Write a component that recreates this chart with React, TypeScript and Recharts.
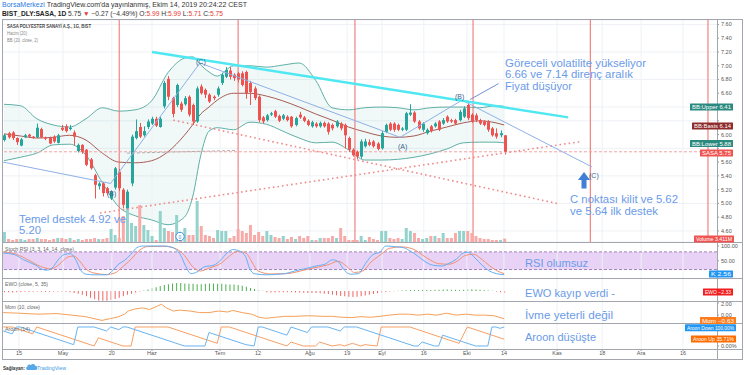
import React from "react";
import {
  Area,
  Bar,
  CartesianGrid,
  Cell,
  ComposedChart,
  Line,
  ReferenceArea,
  ReferenceLine,
  XAxis,
  YAxis
} from "recharts";

const FONT = "'Liberation Sans', Arial, sans-serif";
const NOTE = "#6b9be8";
const GREEN = "#26a69a";
const RED = "#ef5350";
const GRID = "#eef1f5";
const FRAME = "#a3a6af";

// bar index of the first candle (0 = 15 Nisan)
const FIRST_BAR = -3;
const X_DOMAIN: [number, number] = [-3.24, 170.9];
const PRICE_DOMAIN: [number, number] = [4.439, 7.665];

const opens = [
  5.92, 6.02, 6.03, 5.95, 5.84, 5.96, 6.0, 5.97, 5.96, 6.08, 5.96, 5.95, 5.97, 5.88, 6.1, 6.12, 6.08, 6.03, 5.76, 5.85,
  5.78, 5.64, 5.41, 5.25, 5.29, 5.22, 5.07, 5.23, 5.46, 5.2, 4.93, 5.29, 5.95, 6.11, 5.99, 6.11, 6.16, 6.23, 6.11, 6.41,
  6.81, 6.53, 6.43, 6.45, 6.44, 6.55, 6.43, 6.19, 6.7, 6.65, 6.58, 6.55, 6.58, 6.75, 6.84, 6.93, 6.87, 6.89, 6.89, 6.91,
  6.75, 6.67, 6.55, 6.25, 6.21, 6.29, 6.34, 6.27, 6.23, 6.26, 6.26, 6.14, 6.29, 6.25, 6.2, 6.12, 6.16, 6.12, 6.17, 6.16,
  6.14, 6.12, 6.16, 6.14, 5.95, 5.78, 5.75, 5.68, 5.83, 5.89, 5.9, 5.87, 5.8, 6.04, 6.16, 6.16, 6.14, 6.07, 6.07, 6.29,
  6.32, 6.19, 6.07, 6.02, 6.12, 6.12, 6.19, 6.16, 6.26, 6.21, 6.21, 6.21, 6.26, 6.43, 6.29, 6.28, 6.21, 6.19, 6.19, 6.09,
  6.02, 5.99, 5.99
];
const highs = [
  6.01, 6.04, 6.05, 5.96, 5.95, 6.01, 6.01, 5.98, 6.16, 6.1, 5.97, 5.97, 5.99, 6.01, 6.14, 6.15, 6.14, 6.06, 5.87, 5.86,
  5.79, 5.66, 5.43, 5.31, 5.31, 5.24, 5.19, 5.53, 5.5, 5.22, 5.2, 6.0, 6.22, 6.17, 6.12, 6.22, 6.26, 6.26, 6.26, 6.78,
  6.85, 6.55, 6.74, 6.48, 6.56, 6.57, 6.45, 6.7, 6.73, 6.67, 6.6, 6.57, 6.7, 6.9, 6.98, 6.98, 6.89, 6.91, 6.92, 6.93,
  6.78, 6.7, 6.57, 6.27, 6.3, 6.33, 6.36, 6.29, 6.3, 6.28, 6.27, 6.26, 6.33, 6.27, 6.22, 6.2, 6.18, 6.19, 6.19, 6.18,
  6.16, 6.21, 6.18, 6.16, 5.97, 5.8, 5.77, 5.93, 5.94, 5.93, 5.92, 5.89, 6.05, 6.16, 6.18, 6.18, 6.16, 6.11, 6.33, 6.44,
  6.34, 6.21, 6.18, 6.09, 6.14, 6.18, 6.21, 6.24, 6.28, 6.23, 6.23, 6.36, 6.41, 6.46, 6.31, 6.31, 6.23, 6.21, 6.21, 6.11,
  6.09, 6.06, 5.99
];
const lows = [
  5.9, 5.94, 5.92, 5.85, 5.83, 5.95, 5.96, 5.94, 5.95, 5.95, 5.92, 5.86, 5.88, 5.87, 6.05, 6.03, 6.06, 5.84, 5.74, 5.72,
  5.54, 5.49, 5.07, 5.2, 5.1, 5.12, 5.05, 5.2, 5.18, 4.93, 4.92, 5.25, 5.93, 5.95, 5.97, 6.08, 6.14, 6.11, 6.1, 6.38,
  6.5, 6.25, 6.4, 6.33, 6.42, 6.26, 6.14, 6.17, 6.58, 6.53, 6.46, 6.5, 6.55, 6.72, 6.82, 6.8, 6.78, 6.76, 6.7, 6.52,
  6.43, 6.5, 6.18, 6.16, 6.19, 6.27, 6.24, 6.18, 6.21, 6.19, 6.1, 6.12, 6.23, 6.18, 6.12, 6.1, 6.1, 6.1, 6.1, 6.0,
  6.06, 6.1, 6.06, 5.8, 5.75, 5.68, 5.64, 5.65, 5.81, 5.83, 5.81, 5.77, 5.78, 6.02, 6.05, 6.04, 6.05, 6.05, 6.05, 6.27,
  6.17, 6.07, 6.04, 6.0, 6.03, 6.1, 6.05, 6.14, 6.17, 6.17, 6.14, 6.19, 6.24, 6.21, 6.17, 6.18, 6.14, 6.12, 6.04, 5.97,
  5.94, 5.96, 5.71
];
const closes = [
  5.99, 5.96, 5.95, 5.89, 5.93, 5.99, 5.97, 5.95, 6.1, 5.96, 5.94, 5.87, 5.9, 5.99, 6.07, 6.05, 6.1, 5.97, 5.85, 5.75,
  5.56, 5.51, 5.27, 5.29, 5.15, 5.15, 5.17, 5.51, 5.22, 4.98, 5.17, 5.97, 6.05, 5.97, 6.05, 6.19, 6.23, 6.13, 6.23, 6.75,
  6.55, 6.3, 6.72, 6.36, 6.53, 6.29, 6.19, 6.67, 6.6, 6.58, 6.48, 6.53, 6.67, 6.87, 6.94, 6.84, 6.82, 6.8, 6.72, 6.6,
  6.62, 6.53, 6.21, 6.19, 6.28, 6.31, 6.26, 6.2, 6.28, 6.21, 6.12, 6.24, 6.25, 6.2, 6.14, 6.18, 6.12, 6.17, 6.12, 6.04,
  6.09, 6.19, 6.09, 5.99, 5.78, 5.7, 5.68, 5.9, 5.9, 5.85, 5.83, 5.79, 6.02, 6.14, 6.07, 6.07, 6.07, 6.09, 6.31, 6.32,
  6.19, 6.09, 6.16, 6.07, 6.05, 6.16, 6.07, 6.21, 6.19, 6.19, 6.16, 6.33, 6.38, 6.24, 6.19, 6.21, 6.16, 6.14, 6.07, 5.99,
  5.97, 6.02, 5.75
];
// volume in millions
const volumes = [
  10, 3, 2, 3, 3, 2, 3, 3, 4, 3, 3, 2, 3, 4, 4, 3, 4, 2, 3, 2, 3, 3, 4, 3, 3, 4, 13, 7, 4, 26, 37, 19, 16, 37, 17, 12,
  6, 2, 31, 14, 11, 10, 27, 8, 14, 7, 7, 41, 16, 7, 6, 4, 12, 11, 11, 4, 6, 13, 11, 9, 17, 7, 10, 6, 11, 7, 5, 4, 6, 3,
  5, 3, 6, 4, 6, 2, 2, 4, 4, 4, 6, 4, 14, 6, 2, 2, 2, 6, 2, 5, 3, 2, 11, 11, 4, 3, 4, 3, 14, 11, 9, 4, 3, 4, 6, 6, 4, 9,
  4, 4, 9, 11, 11, 11, 9, 6, 4, 3, 3, 2, 2, 2, 3.411
];

const bbIdx = [-3, 1, 5, 9, 13, 17, 21, 25, 29, 33, 37, 41, 43, 45, 47, 49, 53, 57, 61, 65, 69, 73, 77, 81, 85, 89, 93, 97, 101, 105, 109, 113, 117, 119];
const bbUpper = [6.44, 6.42, 6.23, 6.14, 6.11, 6.23, 6.39, 6.34, 6.36, 6.49, 6.9, 7.11, 7.13, 7.01, 6.91, 6.85, 7.0, 7.0, 6.98, 7.01, 7.04, 6.79, 6.39, 6.36, 6.39, 6.4, 6.39, 6.36, 6.39, 6.4, 6.4, 6.39, 6.42, 6.41];
const bbBasis = [6.01, 5.98, 5.95, 5.96, 5.99, 5.92, 5.73, 5.6, 5.59, 5.62, 5.75, 5.99, 6.14, 6.3, 6.4, 6.5, 6.6, 6.6, 6.56, 6.49, 6.4, 6.3, 6.21, 6.11, 6.04, 5.98, 5.96, 5.98, 6.05, 6.11, 6.17, 6.2, 6.17, 6.14];
const bbLower = [5.62, 5.67, 5.73, 5.85, 5.86, 5.7, 5.3, 4.95, 4.82, 4.76, 4.69, 4.8, 5.09, 5.7, 6.05, 6.1, 6.07, 6.18, 6.15, 6.05, 5.95, 5.88, 5.89, 5.78, 5.63, 5.63, 5.64, 5.67, 5.72, 5.79, 5.88, 5.89, 5.89, 5.88];

const priceTicks = [4.6, 4.8, 5.0, 5.2, 5.4, 5.6, 5.8, 6.0, 6.2, 6.4, 6.6, 6.8, 7.0, 7.2, 7.4, 7.6];
// price labels hidden behind the BB / SASA tags on the scale
const coveredTicks = [5.8, 6.2, 6.4];
const timeTicks = [0.66, 11.4, 23.3, 33.1, 49.7, 58.95, 71.6, 80.7, 89.2, 99.4, 109.9, 118.95, 131.9, 142.9, 152.4, 162.6];
const timeLabels = ["15", "May", "20", "Haz", "Tem", "12", "Ağu", "19", "Eyl", "16", "Eki", "14", "Kas", "18", "Ara", "16"];

// drawings on the price pane: [barIndex, price]
const markerBars = [25.1, 54.1, 82.6, 111.4, 140, 168.7];
const cyanTrend = [[33.1, 7.2], [134.6, 6.25]];
const fallingDots = [[38.3, 6.21], [132.6, 4.99]];
const risingDots = [[20.4, 4.86], [137.9, 5.9]];
const grayDash = [[27, 5.73], [53.8, 5.77]];
const wavePoints = [[-3.2, 5.6], [23, 5.29], [44.8, 7.04], [93.6, 5.96], [108.7, 6.5], [140.4, 5.53]];
const calloutLine = [[117.6, 6.74], [110.7, 6.51]];

const stochK = [
  [-3.2, 76], [-0.5, 71], [1.8, 53], [4.7, 35], [6.4, 20], [7.6, 18], [9, 29], [10.1, 51], [11.7, 71], [13.2, 74],
  [14.6, 51], [15.7, 18], [17.1, 4], [19.2, 2], [22.1, 2], [23.6, 18], [25, 39], [26.4, 51], [27.9, 71], [29.4, 94],
  [30.8, 100], [36, 100], [38.3, 94], [40, 71], [41.4, 29], [42.6, 6], [44.1, 12], [45.8, 29], [48.2, 35], [49.9, 53],
  [51.4, 76], [52.8, 88], [54.5, 82], [55.9, 65], [56.9, 24], [58, 6], [60.9, 2], [65.5, 6], [67.9, 15], [70.8, 24],
  [73.1, 32], [75.4, 39], [77.1, 53], [78.5, 47], [80, 18], [81.5, 4], [83.5, 6], [85.2, 41], [87, 71], [88.7, 79],
  [90.1, 100], [92.2, 98], [94.5, 94], [96.2, 82], [98, 65], [99.7, 47], [101.5, 35], [103.8, 32], [105.5, 41], [107.3, 55],
  [109, 76], [110.2, 79], [111.9, 59], [113.6, 35], [115.4, 15], [117.1, 6], [119, 2.56]
];
const stochD = [
  [-3.2, 80], [0, 72], [3, 52], [6, 30], [8.5, 22], [10.5, 38], [12.5, 62], [14, 66], [15.5, 48], [17, 22], [19, 8],
  [22, 3], [24, 8], [26, 30], [28, 55], [30, 85], [32, 98], [36, 99], [39, 90], [41, 68], [43, 30], [45, 15], [47, 25],
  [50, 42], [52, 66], [54, 82], [56, 76], [57.5, 45], [59, 15], [62, 5], [66, 6], [69, 14], [72, 24], [76, 36],
  [78.5, 48], [80.5, 32], [82.5, 10], [84.5, 15], [86.5, 45], [89, 72], [91, 92], [94, 97], [97, 88], [99, 70],
  [101, 52], [103, 40], [105.5, 38], [107.5, 48], [109.5, 68], [111.5, 72], [113.5, 55], [115.5, 32], [117.5, 14], [119, 6]
];

// Elliott wave oscillator, one value per bar
const ewo = [
  -1.5, -1.8, -2.0, -1.6, -1.2, -1.0, -1.2, -1.0, -0.8, -1.0, -1.2, -1.0, -0.8, -0.6, -0.8, -1.0, -1.5,
  -2.5, -3.5, -5, -7, -9, -11, -12.5, -13, -13, -12, -10.5, -9, -7, -5, -3.5, -2, -0.8,
  0.8, 2, 3.5, 5, 6.5, 8, 9, 10, 10.5, 10.5, 10, 9.5, 9.5, 9, 9, 9.5, 10, 10, 9.5, 9.5, 9, 8.5, 8.5, 8, 7, 5.5, 4, 2.5,
  1, 0.3,
  -1.5, -2, -2, -1.8, -1.5, -1.5, -1.8, -2, -2, -2.2, -2.5, -2.5, -2.8, -3, -3.5, -4, -5, -5.5, -6.5, -7, -7.5, -8, -7.5,
  -7, -6, -5, -4, -3, -2, -1.2, -0.6, -0.3,
  0.3, 0.6, 1, 1.3, 1.5, 1.5, 1.3, 1.2, 1.4, 1.6, 1.8, 2, 2, 1.8, 1.6, 1.5, 1.8, 2, 2.2, 2, 1.6, 1.2, 0.8, 0.4, -0.5, -1.5,
  -2.33
];

const momentum = [
  [-3.2, 0.4], [0.6, 0.3], [5.3, 0.14], [9.9, 0.24], [13.4, -0.02], [16.9, -0.28], [19.2, -0.64], [20.9, -0.9],
  [22.7, -0.64], [25, -0.28], [26.4, 0.14], [27.3, 0.66], [29, 1.02], [30.8, 1.18], [32.5, 0.92], [34.3, 1.44],
  [35.4, 1.8], [36.6, 1.18], [38.3, 0.66], [40, 0.81], [42.4, 0.66], [44.7, 0.4], [47, 0.4], [49.3, 0.66], [51.6, 0.5],
  [52.8, 0.76], [55.1, 0.4], [57.4, 0.14], [59.2, -0.38], [60.9, -0.54], [63.2, -0.38], [65.5, -0.22], [67.9, -0.22],
  [71.3, -0.12], [74.8, -0.22], [77.1, -0.22], [79.4, -0.38], [81.8, -0.43], [84.1, -0.28], [86.4, -0.38], [88.7, -0.22],
  [91, -0.02], [93.4, 0.14], [95.7, 0.14], [98, -0.02], [100.3, 0.14], [102.6, -0.02], [104.9, 0.3], [107.3, -0.02],
  [109.6, 0.14], [111.9, -0.02], [114.2, -0.02], [116.5, -0.12], [119, -0.63]
];

const aroonUp = [
  [-3.2, 100], [-1, 100], [4, 64], [5, 100], [19, 0], [20, 43], [26, 0], [28, 0], [29, 100], [37, 100], [49, 14],
  [50, 100], [52, 100], [66, 0], [67, 21], [70, 0], [73, 0], [74, 21], [77, 0], [79, 7], [80, 0], [82, 14], [84, 0],
  [85, 7], [88, 0], [89, 100], [96, 100], [108, 14], [110, 100], [119, 35.71]
];
const aroonDown = [
  [-3.2, 79], [-1, 64], [0, 100], [1, 100], [14, 7], [15, 100], [19, 100], [22, 79], [23, 100], [25, 86], [26, 100],
  [27, 100], [41, 0], [46, 0], [47, 71], [56, 7], [58, 0], [59, 100], [60, 100], [66, 57], [67, 100], [71, 71],
  [72, 100], [76, 100], [79, 79], [80, 100], [83, 100], [97, 0], [98, 0], [99, 21], [102, 0], [103, 0], [104, 57],
  [112, 0], [115, 0], [116, 100], [117, 100], [118, 93], [119, 100]
];

const candles = opens.map((o, k) => ({ i: k + FIRST_BAR, o, h: highs[k], l: lows[k], c: closes[k], v: volumes[k] }));
const bbData = bbIdx.map((i, k) => ({ i, upper: bbUpper[k], basis: bbBasis[k], lower: bbLower[k] }));
const ewoData = ewo.map((e, k) => ({ i: k + FIRST_BAR, e }));

const mergeSeries = (series: Record<string, number[][]>) => {
  const rows = new Map<number, any>();
  for (const [key, pts] of Object.entries(series)) {
    for (const [i, v] of pts) {
      const row = rows.get(i) ?? { i };
      row[key] = v;
      rows.set(i, row);
    }
  }
  return Array.from(rows.values()).sort((a, b) => a.i - b.i);
};
const stochData = mergeSeries({ k: stochK, d: stochD });
const momData = mergeSeries({ m: momentum });
const aroonData = mergeSeries({ up: aroonUp, down: aroonDown });

const seg = (pts: number[][]) => pts.map(([x, y]) => ({ x, y }));
const waveSegments = wavePoints.slice(1).map((p, k) => [wavePoints[k], p]);

const axisTick = { fontSize: 5.5, fill: "#555", fontFamily: FONT };

function Candle(props: any) {
  const { x, y, width, height, payload } = props;
  if (!payload) return null;
  const top = Math.min(y, y + height);
  const span = Math.abs(height);
  const { o, h, l, c } = payload;
  const k = h > l ? span / (h - l) : 0;
  const bodyTop = top + (h - Math.max(o, c)) * k;
  const bodyBottom = top + (h - Math.min(o, c)) * k;
  const color = c >= o ? GREEN : RED;
  const cx = Math.round(x + width / 2) + 0.5;
  return (
    <g>
      <line x1={cx} x2={cx} y1={top} y2={top + span} stroke={color} strokeWidth={1} />
      <rect x={cx - 1.5} y={bodyTop} width={3} height={Math.max(1, bodyBottom - bodyTop)} fill={color} />
    </g>
  );
}

function Pane({ top, height, children }: { top: number; height: number; children: React.ReactNode }) {
  return <div style={{ position: "absolute", left: 0, top, width: 745, height }}>{children}</div>;
}

const timeGrid = () => timeTicks.map((t) => <ReferenceLine key={`g${t}`} x={t} stroke={GRID} ifOverflow="visible" />);

function Tag({ x, w, y, bg, text }: { x: number; w: number; y: number; bg: string; text: string }) {
  return (
    <g>
      <rect x={x} y={y - 3.5} width={w} height={7} fill={bg} rx={0.5} />
      <text x={x + 2} y={y + 2} fontSize={5} fill="#fff" textLength={w - 4} lengthAdjust="spacingAndGlyphs">{text}</text>
    </g>
  );
}

function Note({ x, y, w, size = 10, children }: { x: number; y: number; w: number; size?: number; children: string }) {
  return (
    <text x={x} y={y} fontSize={size} fill={NOTE} textLength={w} lengthAdjust="spacingAndGlyphs">
      {children}
    </text>
  );
}

function Small({ x, y, w, size = 5.5, fill = "#666", weight = "normal", children }: any) {
  return (
    <text x={x} y={y} fontSize={size} fill={fill} fontWeight={weight} textLength={w} lengthAdjust="spacingAndGlyphs">
      {children}
    </text>
  );
}

function Overlay() {
  const wave = "#41628f";
  return (
    <svg width={745} height={375} style={{ position: "absolute", left: 0, top: 0, pointerEvents: "none", fontFamily: FONT }}>
      <rect x={2.5} y={19.5} width={740} height={340} fill="none" stroke={FRAME} />
      {[242.5, 278.5, 301.5, 323.5, 349.5].map((y) => (
        <line key={y} x1={2.5} x2={742.5} y1={y} y2={y} stroke={FRAME} />
      ))}
      <line x1={717.5} x2={717.5} y1={19.5} y2={359.5} stroke={FRAME} />

      <text x={2} y={7} fontSize={6.5} textLength={245} lengthAdjust="spacingAndGlyphs">
        <tspan fill="#2a7ae2">BorsaMerkezi</tspan>
        <tspan fill="#333"> TradingView.com'da yayınlanmış, Ekim 14, 2019 20:24:22 CEST</tspan>
      </text>
      <text x={2} y={15.5} fontSize={6.5} textLength={221} lengthAdjust="spacingAndGlyphs" fill="#333">
        <tspan fontWeight="bold" fill="#222">BIST_DLY:SASA, 1D</tspan>
        <tspan> 5.75 </tspan>
        <tspan fill="#e53935">▼</tspan>
        <tspan> −0.27 (−4.49%) O:</tspan>
        <tspan fill="#e53935">5.99</tspan>
        <tspan> H:</tspan>
        <tspan fill="#e53935">5.99</tspan>
        <tspan> L:</tspan>
        <tspan fill="#e53935">5.71</tspan>
        <tspan> C:</tspan>
        <tspan fill="#e53935">5.75</tspan>
      </text>

      <Small x={7} y={27.5} w={84} fill="#444" weight="bold">SASA POLYESTER SANAYİ A.Ş., 1G, BIST</Small>
      <Small x={7} y={35} w={20} fill="#888">Hacim (20)</Small>
      <Small x={7} y={42} w={31} fill="#888">BB (20, close, 2)</Small>
      <Small x={5} y={251} w={69}>Stoch RSI (3, 3, 14, 14, close)</Small>
      <Small x={5} y={286} w={43}>EWO (close, 5, 35)</Small>
      <Small x={5} y={309} w={35}>Mom (10, close)</Small>
      <Small x={5} y={331} w={25}>Aroon (14)</Small>

      <text x={196} y={63.5} fontSize={7} fill={wave}>(C)</text>
      <text x={107} y={195.5} fontSize={7} fill={wave}>(B)</text>
      <text x={398} y={148.5} fontSize={7} fill={wave}>(A)</text>
      <text x={455} y={98.5} fontSize={7} fill={wave}>(B)</text>
      <text x={589} y={177.5} fontSize={7} fill={wave}>(C)</text>

      <polygon points="584,172 590,180 586.5,180 586.5,188.5 581.5,188.5 581.5,180 578,180" fill="#3f7fd6" />
      <circle cx={180} cy={236.5} r={4.2} fill="#fff" stroke="#3c8de0" />
      <text x={180} y={238.5} fontSize={5} fill="#3c8de0" textAnchor="middle">0</text>

      <Note x={505} y={66.5} w={141}>Göreceli volatilite yükseliyor</Note>
      <Note x={505} y={78} w={128}>6.66 ve 7.14 direnç aralık</Note>
      <Note x={505} y={89.5} w={67}>Fiyat düşüyor</Note>
      <Note x={570} y={203} w={108}>C noktası kilit ve 5.62</Note>
      <Note x={570} y={214.5} w={88}>ve 5.64 ilk destek</Note>
      <Note x={19} y={222.5} w={107}>Temel destek 4.92 ve</Note>
      <Note x={19} y={234} w={22}>5.20</Note>
      <Note x={525} y={267} w={63} size={11}>RSI olumsuz</Note>
      <Note x={525} y={297} w={90} size={11}>EWO kayıp verdi -</Note>
      <Note x={525} y={319} w={88} size={11}>İvme yeterli değil</Note>
      <Note x={525} y={341} w={71} size={11}>Aroon düşüşte</Note>

      <Tag x={690} w={43} y={107} bg="#2b8a80" text="BB:Upper  6.41" />
      <Tag x={692} w={41} y={126} bg="#8e2b2b" text="BB:Basis  6.14" />
      <Tag x={690} w={43} y={143.5} bg="#2b8a80" text="BB:Lower  5.88" />
      <Tag x={700} w={33} y={153} bg={RED} text="SASA  5.75" />
      <Tag x={694} w={40} y={239} bg={RED} text="Volume  3.411M" />
      <Tag x={709} w={24} y={274} bg="#2196f3" text="K  2.56" />
      <Tag x={703} w={30} y={292} bg="#f01e1e" text="EWO  −2.33" />
      <Tag x={700} w={36} y={320.5} bg="#ff7a1a" text="Mom  −0.63" />
      <Tag x={685} w={51} y={327.8} bg="#2196f3" text="Aroon Down  100.00%" />
      <Tag x={691} w={45} y={339} bg="#ff6d00" text="Aroon Up  35.71%" />

      <Small x={3} y={370} w={22} fill="#333" weight="bold">Sağlayan:</Small>
      <path d="M27.5 370 h8 a2 2 0 0 0 0 -4 a2.6 2.6 0 0 0 -4.6 -1 a2 2 0 0 0 -3.4 1.5 a1.8 1.8 0 0 0 0 3.5 z" fill="#58a8e8" />
      <Small x={37} y={370} w={29} fill="#3d9be9" size={6}>TradingView</Small>
    </svg>
  );
}

export default function App() {
  const xAxis = <XAxis type="number" dataKey="i" domain={X_DOMAIN} allowDataOverflow hide />;
  return (
    <div style={{ position: "absolute", left: 0, top: 0, width: 745, height: 375, background: "#fff", overflow: "hidden", fontFamily: FONT }}>
      <style>{".recharts-surface{overflow:visible}"}</style>

      <Pane top={0} height={242}>
        <ComposedChart width={745} height={242} data={bbData} margin={{ top: 20, right: 3, left: 3, bottom: 0 }}>
          <CartesianGrid vertical={false} stroke={GRID} />
          {xAxis}
          <YAxis
            orientation="right"
            width={25}
            domain={PRICE_DOMAIN}
            ticks={priceTicks}
            allowDataOverflow
            axisLine={false}
            tickSize={2}
            tickMargin={2}
            tickLine={{ stroke: "#999" }}
            tick={axisTick}
            tickFormatter={(v: number) => (coveredTicks.includes(v) ? "" : v.toFixed(2))}
          />
          {timeGrid()}
          <Area type="monotone" dataKey={(d: any) => [d.lower, d.upper]} fill={GREEN} fillOpacity={0.07} stroke="none" isAnimationActive={false} />
          <Line type="monotone" dataKey="upper" stroke="#5fb0a6" strokeWidth={1} dot={false} isAnimationActive={false} />
          <Line type="monotone" dataKey="lower" stroke="#5fb0a6" strokeWidth={1} dot={false} isAnimationActive={false} />
          <Line type="monotone" dataKey="basis" stroke="#a85b55" strokeWidth={1} dot={false} isAnimationActive={false} />
          {markerBars.map((x) => (
            <ReferenceLine key={`m${x}`} x={x} stroke="#f06a6a" ifOverflow="visible" />
          ))}
          <ReferenceLine y={5.75} stroke="#f4a3a3" strokeDasharray="3 2" />
        </ComposedChart>
      </Pane>

      <Pane top={162} height={80}>
        <ComposedChart width={745} height={80} data={candles} margin={{ top: 0, right: 28, left: 3, bottom: 0 }}>
          {xAxis}
          <YAxis hide domain={[0, 80]} allowDataOverflow />
          <Bar dataKey="v" barSize={3} isAnimationActive={false}>
            {candles.map((d) => (
              <Cell key={d.i} fill={d.c >= d.o ? "#93d3cc" : "#f7aaa8"} />
            ))}
          </Bar>
        </ComposedChart>
      </Pane>

      <Pane top={0} height={242}>
        <ComposedChart width={745} height={242} data={candles} margin={{ top: 20, right: 28, left: 3, bottom: 0 }}>
          {xAxis}
          <YAxis hide domain={PRICE_DOMAIN} allowDataOverflow />
          <ReferenceLine segment={seg(grayDash)} stroke="#b0b0b0" strokeDasharray="3 2" ifOverflow="visible" />
          <ReferenceLine segment={seg(fallingDots)} stroke="#ef8a8a" strokeWidth={1.6} strokeDasharray="1.6 3" ifOverflow="visible" />
          <ReferenceLine segment={seg(risingDots)} stroke="#ef8a8a" strokeWidth={1.6} strokeDasharray="1.6 3" ifOverflow="visible" />
          {waveSegments.map((s, k) => (
            <ReferenceLine key={`w${k}`} segment={seg(s)} stroke="#8fb0e6" strokeWidth={1} ifOverflow="visible" />
          ))}
          <ReferenceLine segment={seg(calloutLine)} stroke="#6f8fd8" strokeWidth={1} ifOverflow="visible" />
          <Bar dataKey={(d: any) => [d.l, d.h]} barSize={3} shape={Candle} isAnimationActive={false} />
          <ReferenceLine segment={seg(cyanTrend)} stroke="#4fe8f2" strokeWidth={2.5} ifOverflow="visible" />
        </ComposedChart>
      </Pane>

      <Pane top={243} height={35}>
        <ComposedChart width={745} height={35} data={stochData} margin={{ top: 0, right: 3, left: 3, bottom: 0 }}>
          {xAxis}
          <YAxis
            orientation="right"
            width={25}
            domain={[-8.8, 110.2]}
            ticks={[50, 100]}
            allowDataOverflow
            axisLine={false}
            tickSize={2}
            tickMargin={2}
            tickLine={{ stroke: "#999" }}
            tick={axisTick}
            tickFormatter={(v: number) => v.toFixed(2)}
          />
          {timeGrid()}
          <ReferenceArea y1={20} y2={80} fill="#d9b6f2" fillOpacity={0.6} stroke="none" />
          <ReferenceLine y={80} stroke="#9f86b8" strokeDasharray="3 2" />
          <ReferenceLine y={20} stroke="#9f86b8" strokeDasharray="3 2" />
          <Line type="monotone" dataKey="d" stroke="#f3906f" strokeWidth={1} dot={false} connectNulls isAnimationActive={false} />
          <Line type="monotone" dataKey="k" stroke="#63b0f2" strokeWidth={1} dot={false} connectNulls isAnimationActive={false} />
        </ComposedChart>
      </Pane>

      <Pane top={278} height={23}>
        <ComposedChart width={745} height={23} data={ewoData} margin={{ top: 0, right: 28, left: 3, bottom: 0 }}>
          {xAxis}
          <YAxis hide domain={[-13.3, 17.3]} allowDataOverflow />
          {timeGrid()}
          <Bar dataKey="e" barSize={1} isAnimationActive={false}>
            {ewoData.map((d) => (
              <Cell key={d.i} fill={d.e >= 0 ? "#4caf50" : "#f06565"} />
            ))}
          </Bar>
        </ComposedChart>
      </Pane>

      <Pane top={301} height={22}>
        <ComposedChart width={745} height={22} data={momData} margin={{ top: 0, right: 3, left: 3, bottom: 0 }}>
          {xAxis}
          <YAxis
            orientation="right"
            width={25}
            domain={[-1.333, 2.333]}
            ticks={[0, 2]}
            allowDataOverflow
            axisLine={false}
            tickSize={2}
            tickMargin={2}
            tickLine={{ stroke: "#999" }}
            tick={axisTick}
            tickFormatter={(v: number) => v.toFixed(2)}
          />
          {timeGrid()}
          <Line type="linear" dataKey="m" stroke="#f5a05a" strokeWidth={1} dot={false} connectNulls isAnimationActive={false} />
        </ComposedChart>
      </Pane>

      <Pane top={323} height={36}>
        <ComposedChart width={745} height={36} data={aroonData} margin={{ top: 0, right: 3, left: 3, bottom: 0 }}>
          <XAxis
            type="number"
            dataKey="i"
            domain={X_DOMAIN}
            allowDataOverflow
            ticks={timeTicks}
            interval={0}
            height={10}
            axisLine={false}
            tickSize={2}
            tickMargin={0}
            tickLine={{ stroke: "#999" }}
            tick={axisTick}
            tickFormatter={(v: number) => timeLabels[timeTicks.indexOf(v)] ?? ""}
          />
          <YAxis
            orientation="right"
            width={25}
            domain={[-15.8, 121]}
            ticks={[0]}
            allowDataOverflow
            axisLine={false}
            tickSize={2}
            tickMargin={2}
            tickLine={{ stroke: "#999" }}
            tick={axisTick}
            tickFormatter={(v: number) => `${v.toFixed(2)}%`}
          />
          {timeGrid()}
          <Line type="linear" dataKey="up" stroke="#f7a065" strokeWidth={1} dot={false} connectNulls isAnimationActive={false} />
          <Line type="linear" dataKey="down" stroke="#6ab4f0" strokeWidth={1} dot={false} connectNulls isAnimationActive={false} />
        </ComposedChart>
      </Pane>

      <Overlay />
    </div>
  );
}
